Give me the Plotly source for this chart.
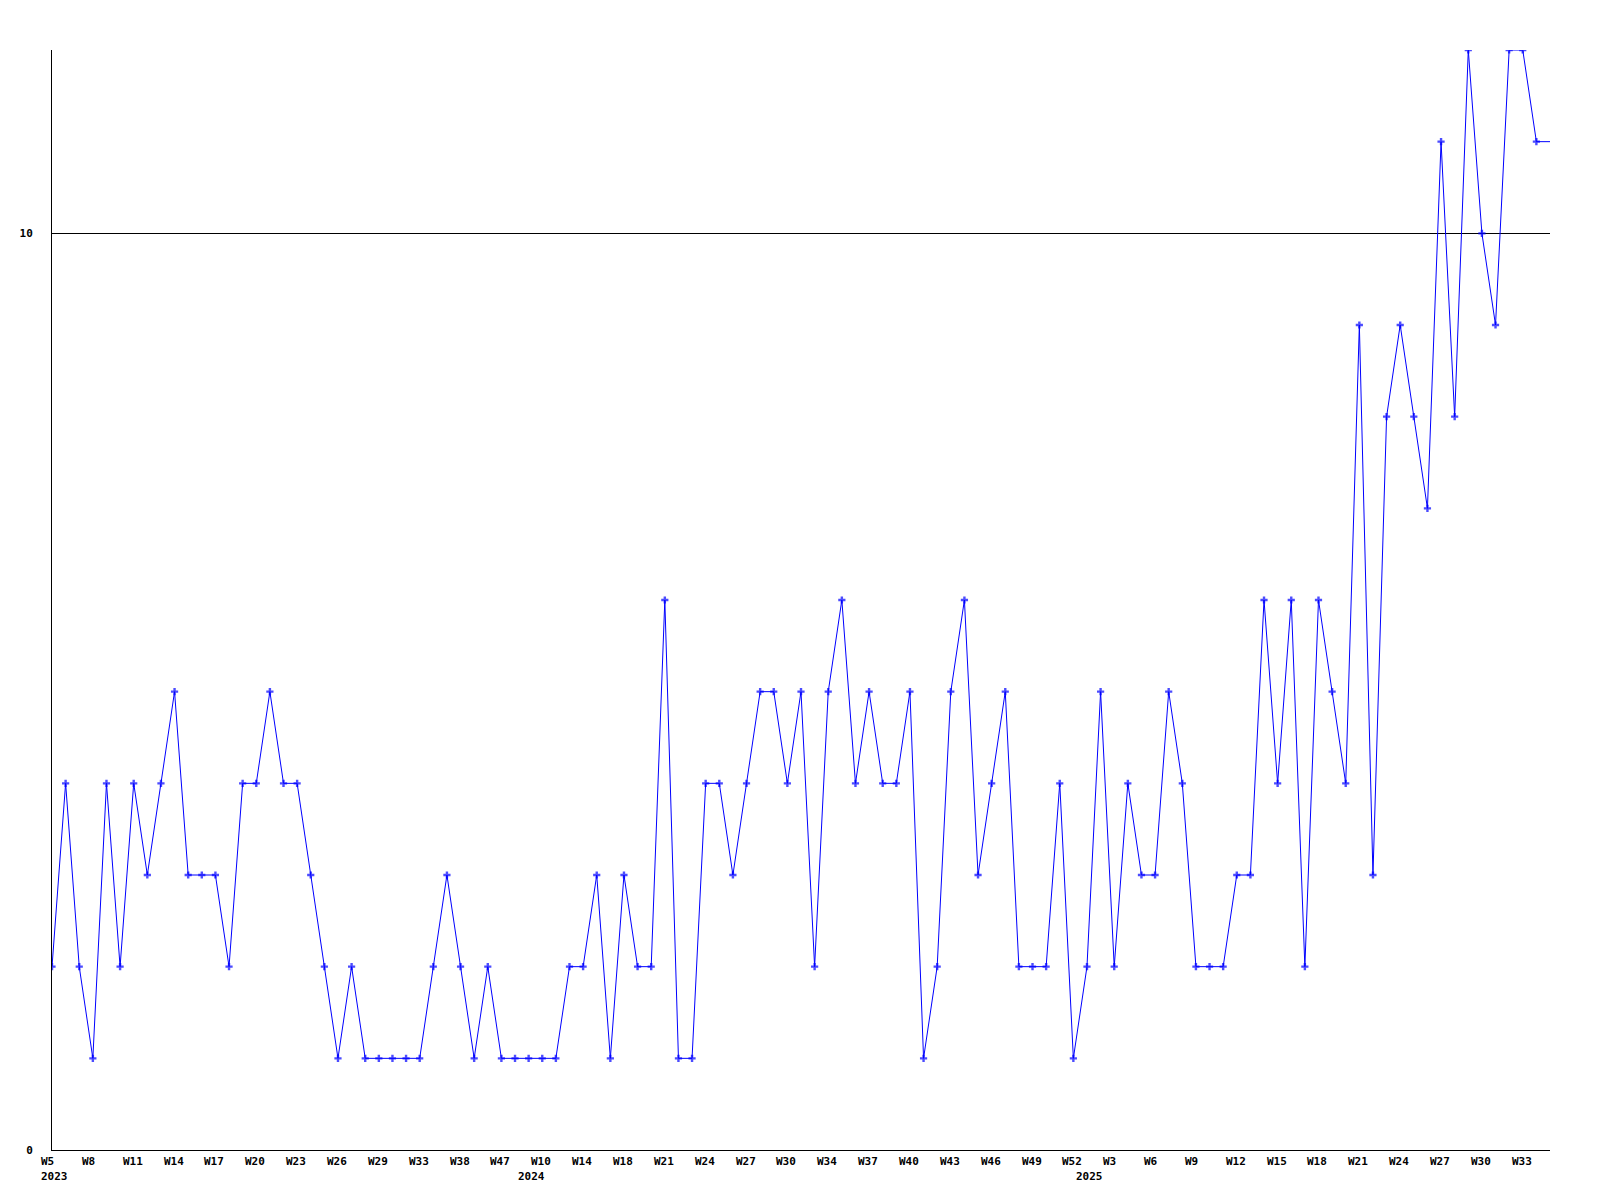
import plotly.graph_objects as go

# Weekly values (one point per reported week; last value extends the line to the edge)
values = [2, 4, 2, 1, 4, 2, 4, 3, 4, 5,
          3, 3, 3, 2, 4, 4, 5, 4, 4, 3,
          2, 1, 2, 1, 1, 1, 1, 1, 2, 3,
          2, 1, 2, 1, 1, 1, 1, 1, 2, 2,
          3, 1, 3, 2, 2, 6, 1, 1, 4, 4,
          3, 4, 5, 5, 4, 5, 2, 5, 6, 4,
          5, 4, 4, 5, 1, 2, 5, 6, 3, 4,
          5, 2, 2, 2, 4, 1, 2, 5, 2, 4,
          3, 3, 5, 4, 2, 2, 2, 3, 3, 6,
          4, 6, 2, 6, 5, 4, 9, 3, 8, 9,
          8, 7, 11, 8, 12, 10, 9, 12, 12, 11,
          11]

week_labels = ["W5", "W8", "W11", "W14", "W17", "W20", "W23", "W26", "W29", "W33",
               "W38", "W47", "W10", "W14", "W18", "W21", "W24", "W27", "W30", "W34",
               "W37", "W40", "W43", "W46", "W49", "W52", "W3", "W6", "W9", "W12",
               "W15", "W18", "W21", "W24", "W27", "W30", "W33"]
week_label_positions = [i * 3 for i in range(len(week_labels))]

year_labels = ["2023", "2024", "2025"]
year_label_positions = [0, 35, 76]

x = list(range(len(values)))
marker_sizes = [6] * (len(values) - 1) + [0]

FONT = dict(family="DejaVu Sans Mono", size=11, color="black", weight="bold")

fig = go.Figure()
fig.add_trace(go.Scatter(
    x=x, y=values, mode="lines+markers",
    line=dict(color="#0000ff", width=1),
    marker=dict(symbol="cross", size=marker_sizes, color="#0000ff", line=dict(width=0)),
    hoverinfo="skip", showlegend=False,
))

annotations = []
for pos, lab in zip(week_label_positions, week_labels):
    annotations.append(dict(x=pos, y=0, xref="x", yref="paper", text=lab,
                            showarrow=False, xanchor="left", yanchor="top",
                            xshift=-13, yshift=-3, font=FONT))
for pos, lab in zip(year_label_positions, year_labels):
    annotations.append(dict(x=pos, y=0, xref="x", yref="paper", text=lab,
                            showarrow=False, xanchor="left", yanchor="top",
                            xshift=-13, yshift=-18, font=FONT))

fig.update_layout(
    width=1592, height=1192,
    margin=dict(l=42, r=50, t=42, b=50),
    paper_bgcolor="white", plot_bgcolor="white",
    font=FONT,
    annotations=annotations,
    xaxis=dict(range=[0, len(values) - 1], showgrid=False, zeroline=False,
               showline=True, linecolor="black", linewidth=1,
               showticklabels=False, ticks=""),
    yaxis=dict(range=[0, 12], tickvals=[0, 10], ticktext=["0", "10"],
               showgrid=True, gridcolor="black", gridwidth=1,
               zeroline=False, showline=True, linecolor="black", linewidth=1,
               ticks="", ticklabelstandoff=16, tickfont=FONT),
)

fig.write_html("out.html")
